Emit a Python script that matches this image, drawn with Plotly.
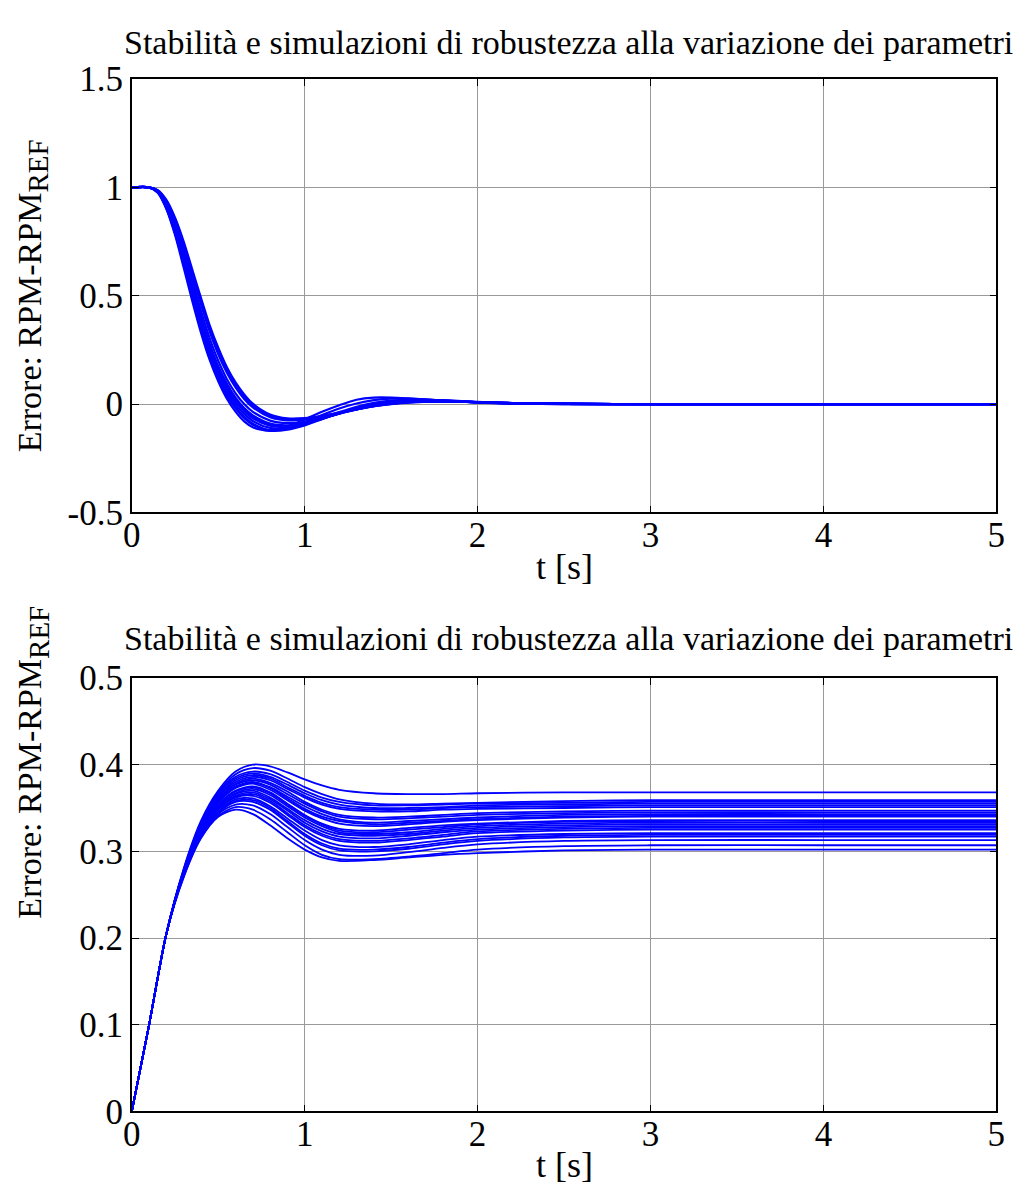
import plotly.graph_objects as go

# ---- time grids (s) ----
t_top = [0, 0.1, 0.15, 0.2, 0.25, 0.3, 0.35, 0.4, 0.45, 0.5, 0.55, 0.6, 0.65, 0.7,
         0.8, 0.9, 1.0, 1.1, 1.2, 1.3, 1.4, 1.5, 1.6, 1.8, 2.0, 2.2, 2.5, 3.0, 4.0, 5.0]
t_bot = [0, 0.1, 0.2, 0.3, 0.4, 0.5, 0.6, 0.7, 0.8, 0.9, 1.0, 1.1, 1.2, 1.4, 1.6,
         1.8, 2.0, 2.5, 3.0, 4.0, 5.0]

# ---- error RPM-RPM_REF, step response for each parameter set ----
err_a1 = [1, 1, 0.975, 0.90, 0.78, 0.63, 0.475, 0.33, 0.205, 0.105, 0.025, -0.035, -0.08, -0.107,
          -0.124, -0.105, -0.07, -0.035, -0.005, 0.02, 0.03, 0.03, 0.026, 0.016, 0.007, 0.002, 0, 0, 0, 0]
err_a2 = [1, 1, 0.977, 0.905, 0.79, 0.645, 0.49, 0.345, 0.22, 0.12, 0.04, -0.02, -0.065, -0.095,
          -0.12, -0.11, -0.083, -0.05, -0.02, 0.003, 0.018, 0.025, 0.025, 0.017, 0.008, 0.003, 0, 0, 0, 0]
err_a3 = [1, 1, 0.979, 0.91, 0.80, 0.66, 0.51, 0.365, 0.24, 0.14, 0.06, 0.0, -0.045, -0.078,
          -0.11, -0.11, -0.093, -0.066, -0.037, -0.012, 0.006, 0.016, 0.02, 0.016, 0.009, 0.003, 0.001, 0, 0, 0]
err_a4 = [1, 1, 0.98, 0.915, 0.81, 0.675, 0.525, 0.38, 0.255, 0.155, 0.075, 0.013, -0.033, -0.066,
          -0.10, -0.105, -0.092, -0.068, -0.042, -0.018, 0.0, 0.011, 0.016, 0.015, 0.009, 0.004, 0.001, 0, 0, 0]
err_a5 = [1, 1, 0.982, 0.92, 0.82, 0.69, 0.545, 0.405, 0.28, 0.175, 0.095, 0.03, -0.018, -0.052,
          -0.09, -0.098, -0.088, -0.067, -0.044, -0.022, -0.005, 0.007, 0.013, 0.014, 0.009, 0.004, 0.001, 0, 0, 0]
err_a6 = [1, 1, 0.983, 0.928, 0.835, 0.71, 0.57, 0.43, 0.305, 0.20, 0.115, 0.05, 0.0, -0.036,
          -0.076, -0.088, -0.082, -0.064, -0.044, -0.024, -0.008, 0.004, 0.011, 0.013, 0.009, 0.004, 0.001, 0, 0, 0]
err_a7 = [1, 1, 0.985, 0.935, 0.848, 0.73, 0.595, 0.46, 0.335, 0.23, 0.145, 0.077, 0.024, -0.015,
          -0.06, -0.075, -0.072, -0.058, -0.041, -0.024, -0.009, 0.002, 0.009, 0.012, 0.009, 0.005, 0.002, 0, 0, 0]
err_a8 = [1, 1, 0.987, 0.942, 0.86, 0.75, 0.62, 0.49, 0.365, 0.26, 0.17, 0.10, 0.045, 0.002,
          -0.048, -0.066, -0.065, -0.054, -0.039, -0.024, -0.01, 0.0, 0.007, 0.011, 0.009, 0.005, 0.002, 0, 0, 0]
err_a9 = [1, 1, 0.978, 0.906, 0.792, 0.65, 0.50, 0.355, 0.23, 0.128, 0.048, -0.013, -0.058, -0.09,
          -0.122, -0.118, -0.098, -0.07, -0.042, -0.017, 0.002, 0.013, 0.019, 0.017, 0.01, 0.004, 0.001, 0, 0, 0]
err_a10 = [1, 1, 0.981, 0.918, 0.815, 0.682, 0.535, 0.392, 0.268, 0.165, 0.085, 0.022, -0.026, -0.06,
           -0.096, -0.102, -0.09, -0.067, -0.043, -0.02, -0.003, 0.009, 0.015, 0.014, 0.009, 0.004, 0.001, 0, 0, 0]
err_a11 = [1, 1, 0.986, 0.938, 0.854, 0.74, 0.607, 0.475, 0.35, 0.245, 0.158, 0.088, 0.034, -0.006,
           -0.054, -0.07, -0.068, -0.056, -0.04, -0.024, -0.01, 0.001, 0.008, 0.011, 0.009, 0.005, 0.002, 0, 0, 0]

# ---- error response to the load disturbance for each parameter set ----
err_b01 = [0, 0.1, 0.205, 0.28, 0.335, 0.37, 0.392, 0.400, 0.398, 0.391, 0.383, 0.376, 0.371, 0.367, 0.366, 0.366, 0.367, 0.368, 0.368, 0.368, 0.368]
err_b02 = [0, 0.1, 0.205, 0.279, 0.333, 0.368, 0.389, 0.396, 0.393, 0.384, 0.374, 0.366, 0.360, 0.355, 0.354, 0.355, 0.356, 0.358, 0.359, 0.359, 0.359]
err_b03 = [0, 0.1, 0.205, 0.278, 0.331, 0.365, 0.384, 0.390, 0.386, 0.377, 0.367, 0.359, 0.354, 0.350, 0.350, 0.351, 0.353, 0.354, 0.355, 0.355, 0.355]
err_b04 = [0, 0.1, 0.205, 0.277, 0.329, 0.362, 0.380, 0.386, 0.382, 0.372, 0.362, 0.354, 0.349, 0.346, 0.346, 0.348, 0.349, 0.350, 0.351, 0.351, 0.351]
err_b05 = [0, 0.1, 0.205, 0.277, 0.328, 0.360, 0.378, 0.384, 0.379, 0.369, 0.357, 0.348, 0.342, 0.339, 0.340, 0.342, 0.344, 0.346, 0.347, 0.347, 0.347]
err_b06 = [0, 0.1, 0.205, 0.276, 0.326, 0.358, 0.375, 0.380, 0.374, 0.363, 0.352, 0.343, 0.337, 0.333, 0.335, 0.337, 0.339, 0.342, 0.343, 0.343, 0.343]
err_b07 = [0, 0.1, 0.205, 0.276, 0.325, 0.356, 0.373, 0.378, 0.371, 0.359, 0.347, 0.338, 0.332, 0.329, 0.331, 0.334, 0.336, 0.339, 0.340, 0.340, 0.340]
err_b08 = [0, 0.1, 0.205, 0.275, 0.324, 0.354, 0.370, 0.375, 0.368, 0.355, 0.342, 0.332, 0.326, 0.324, 0.327, 0.330, 0.332, 0.335, 0.336, 0.336, 0.336]
err_b09 = [0, 0.1, 0.205, 0.275, 0.323, 0.352, 0.367, 0.372, 0.365, 0.352, 0.339, 0.329, 0.322, 0.320, 0.322, 0.326, 0.329, 0.332, 0.333, 0.333, 0.333]
err_b10 = [0, 0.1, 0.205, 0.274, 0.321, 0.350, 0.364, 0.368, 0.360, 0.347, 0.333, 0.323, 0.317, 0.315, 0.318, 0.322, 0.325, 0.328, 0.329, 0.329, 0.329]
err_b11 = [0, 0.1, 0.205, 0.274, 0.320, 0.348, 0.362, 0.364, 0.356, 0.342, 0.328, 0.318, 0.312, 0.310, 0.313, 0.317, 0.321, 0.324, 0.325, 0.325, 0.325]
err_b12 = [0, 0.1, 0.205, 0.273, 0.319, 0.346, 0.360, 0.361, 0.352, 0.338, 0.324, 0.313, 0.307, 0.305, 0.308, 0.313, 0.317, 0.320, 0.321, 0.321, 0.321]
err_b13 = [0, 0.1, 0.205, 0.273, 0.318, 0.344, 0.357, 0.357, 0.348, 0.333, 0.318, 0.307, 0.301, 0.300, 0.303, 0.308, 0.312, 0.316, 0.317, 0.317, 0.317]
err_b14 = [0, 0.1, 0.205, 0.272, 0.317, 0.343, 0.354, 0.353, 0.343, 0.328, 0.313, 0.302, 0.296, 0.295, 0.299, 0.304, 0.308, 0.312, 0.313, 0.313, 0.313]
err_b15 = [0, 0.1, 0.205, 0.271, 0.316, 0.341, 0.351, 0.348, 0.337, 0.322, 0.307, 0.296, 0.291, 0.291, 0.294, 0.298, 0.302, 0.306, 0.307, 0.307, 0.307]
err_b16 = [0, 0.1, 0.205, 0.270, 0.315, 0.340, 0.348, 0.343, 0.330, 0.315, 0.302, 0.293, 0.289, 0.290, 0.293, 0.296, 0.298, 0.301, 0.302, 0.302, 0.302]
err_b17 = [0, 0.1, 0.205, 0.278, 0.332, 0.367, 0.386, 0.392, 0.389, 0.380, 0.370, 0.362, 0.357, 0.353, 0.353, 0.354, 0.355, 0.356, 0.357, 0.357, 0.357]
err_b18 = [0, 0.1, 0.205, 0.277, 0.330, 0.363, 0.382, 0.388, 0.384, 0.374, 0.364, 0.356, 0.351, 0.348, 0.348, 0.350, 0.351, 0.352, 0.353, 0.353, 0.353]
err_b19 = [0, 0.1, 0.205, 0.277, 0.327, 0.359, 0.377, 0.382, 0.377, 0.366, 0.355, 0.346, 0.340, 0.337, 0.338, 0.340, 0.342, 0.344, 0.345, 0.345, 0.345]
err_b20 = [0, 0.1, 0.205, 0.276, 0.325, 0.357, 0.374, 0.379, 0.373, 0.361, 0.349, 0.340, 0.335, 0.331, 0.333, 0.335, 0.337, 0.340, 0.341, 0.341, 0.341]
err_b21 = [0, 0.1, 0.205, 0.275, 0.323, 0.353, 0.369, 0.374, 0.367, 0.354, 0.341, 0.331, 0.324, 0.322, 0.325, 0.328, 0.331, 0.334, 0.335, 0.335, 0.335]
err_b22 = [0, 0.1, 0.205, 0.274, 0.322, 0.351, 0.366, 0.370, 0.362, 0.349, 0.336, 0.326, 0.320, 0.318, 0.320, 0.324, 0.327, 0.330, 0.331, 0.331, 0.331]
err_b23 = [0, 0.1, 0.205, 0.274, 0.320, 0.349, 0.363, 0.366, 0.358, 0.344, 0.330, 0.320, 0.314, 0.312, 0.315, 0.319, 0.323, 0.326, 0.327, 0.327, 0.327]
err_b24 = [0, 0.1, 0.205, 0.273, 0.319, 0.345, 0.358, 0.359, 0.350, 0.335, 0.320, 0.309, 0.303, 0.302, 0.305, 0.310, 0.314, 0.318, 0.319, 0.319, 0.319]

top_series = [err_a1, err_a2, err_a3, err_a4, err_a5, err_a6, err_a7, err_a8, err_a9, err_a10, err_a11]
bot_series = [err_b01, err_b02, err_b03, err_b04, err_b05, err_b06, err_b07, err_b08,
              err_b09, err_b10, err_b11, err_b12, err_b13, err_b14, err_b15, err_b16,
              err_b17, err_b18, err_b19, err_b20, err_b21, err_b22, err_b23, err_b24]

x_ticks = [0, 1, 2, 3, 4, 5]
y_ticks_top = [-0.5, 0, 0.5, 1, 1.5]
y_labels_top = ["-0.5", "0", "0.5", "1", "1.5"]
y_ticks_bot = [0, 0.1, 0.2, 0.3, 0.4, 0.5]
y_labels_bot = ["0", "0.1", "0.2", "0.3", "0.4", "0.5"]

title_text = "Stabilità e simulazioni di robustezza alla variazione dei parametri"
ylabel_text = "Errore: RPM-RPM<sub><span style='font-size:29px'>REF</span></sub>"
xlabel_text = "t [s]"

FONT = "Liberation Serif"
W, H = 1025, 1204
BLUE = "#0000FF"

fig = go.Figure()
for ys in top_series:
    fig.add_trace(go.Scatter(x=t_top, y=ys, mode="lines", xaxis="x", yaxis="y",
                             line=dict(color=BLUE, width=2.2, shape="spline", smoothing=0.8),
                             showlegend=False, hoverinfo="skip"))
for ys in bot_series:
    fig.add_trace(go.Scatter(x=t_bot, y=ys, mode="lines", xaxis="x2", yaxis="y2",
                             line=dict(color=BLUE, width=1.8, shape="spline", smoothing=0.8),
                             showlegend=False, hoverinfo="skip"))

# pixel frames of the two axes boxes
X0, X1 = 125, 1005
TOP = (62, 510)
BOT = (681, 1129)


def py(v):
    return 1 - v / H


axis_common = dict(
    showline=True, linecolor="black", linewidth=1.6, mirror="allticks",
    ticks="inside", ticklen=7, tickwidth=1.2, tickcolor="black",
    showgrid=True, gridcolor="#9a9a9a", gridwidth=1, zeroline=False,
    tickfont=dict(family=FONT, size=35, color="black"),
)

fig.update_layout(
    width=W, height=H,
    margin=dict(l=0, r=0, t=0, b=0),
    paper_bgcolor="white", plot_bgcolor="white",
    xaxis=dict(domain=[X0 / W, X1 / W], range=[0, 5], tickvals=x_ticks,
               anchor="y", ticklabelstandoff=-9, **axis_common),
    yaxis=dict(domain=[py(TOP[1]), py(TOP[0])], range=[-0.5, 1.5], tickvals=y_ticks_top,
               ticktext=y_labels_top, anchor="x", **axis_common),
    xaxis2=dict(domain=[X0 / W, X1 / W], range=[0, 5], tickvals=x_ticks,
                anchor="y2", ticklabelstandoff=-9, **axis_common),
    yaxis2=dict(domain=[py(BOT[1]), py(BOT[0])], range=[0, 0.5], tickvals=y_ticks_bot,
                ticktext=y_labels_bot, anchor="x2", **axis_common),
)

cx = 570 / W
# titles
for yc in (24, 640):
    fig.add_annotation(text=title_text, x=cx, y=py(yc), xref="paper", yref="paper",
                       showarrow=False, xanchor="center", yanchor="middle",
                       font=dict(family=FONT, size=34, color="black"))
# x labels
xc = (X0 + X1) / 2 / W
for yc in (566, 1184):
    fig.add_annotation(text=xlabel_text, x=xc, y=py(yc), xref="paper", yref="paper",
                       showarrow=False, xanchor="center", yanchor="middle",
                       font=dict(family=FONT, size=36, color="black"))
# y labels
for yc in (286, 768):
    fig.add_annotation(text=ylabel_text, x=24 / W, y=py(yc), xref="paper", yref="paper",
                       showarrow=False, xanchor="center", yanchor="middle",
                       textangle=-90, font=dict(family=FONT, size=34, color="black"))

fig.write_html("out.html")
